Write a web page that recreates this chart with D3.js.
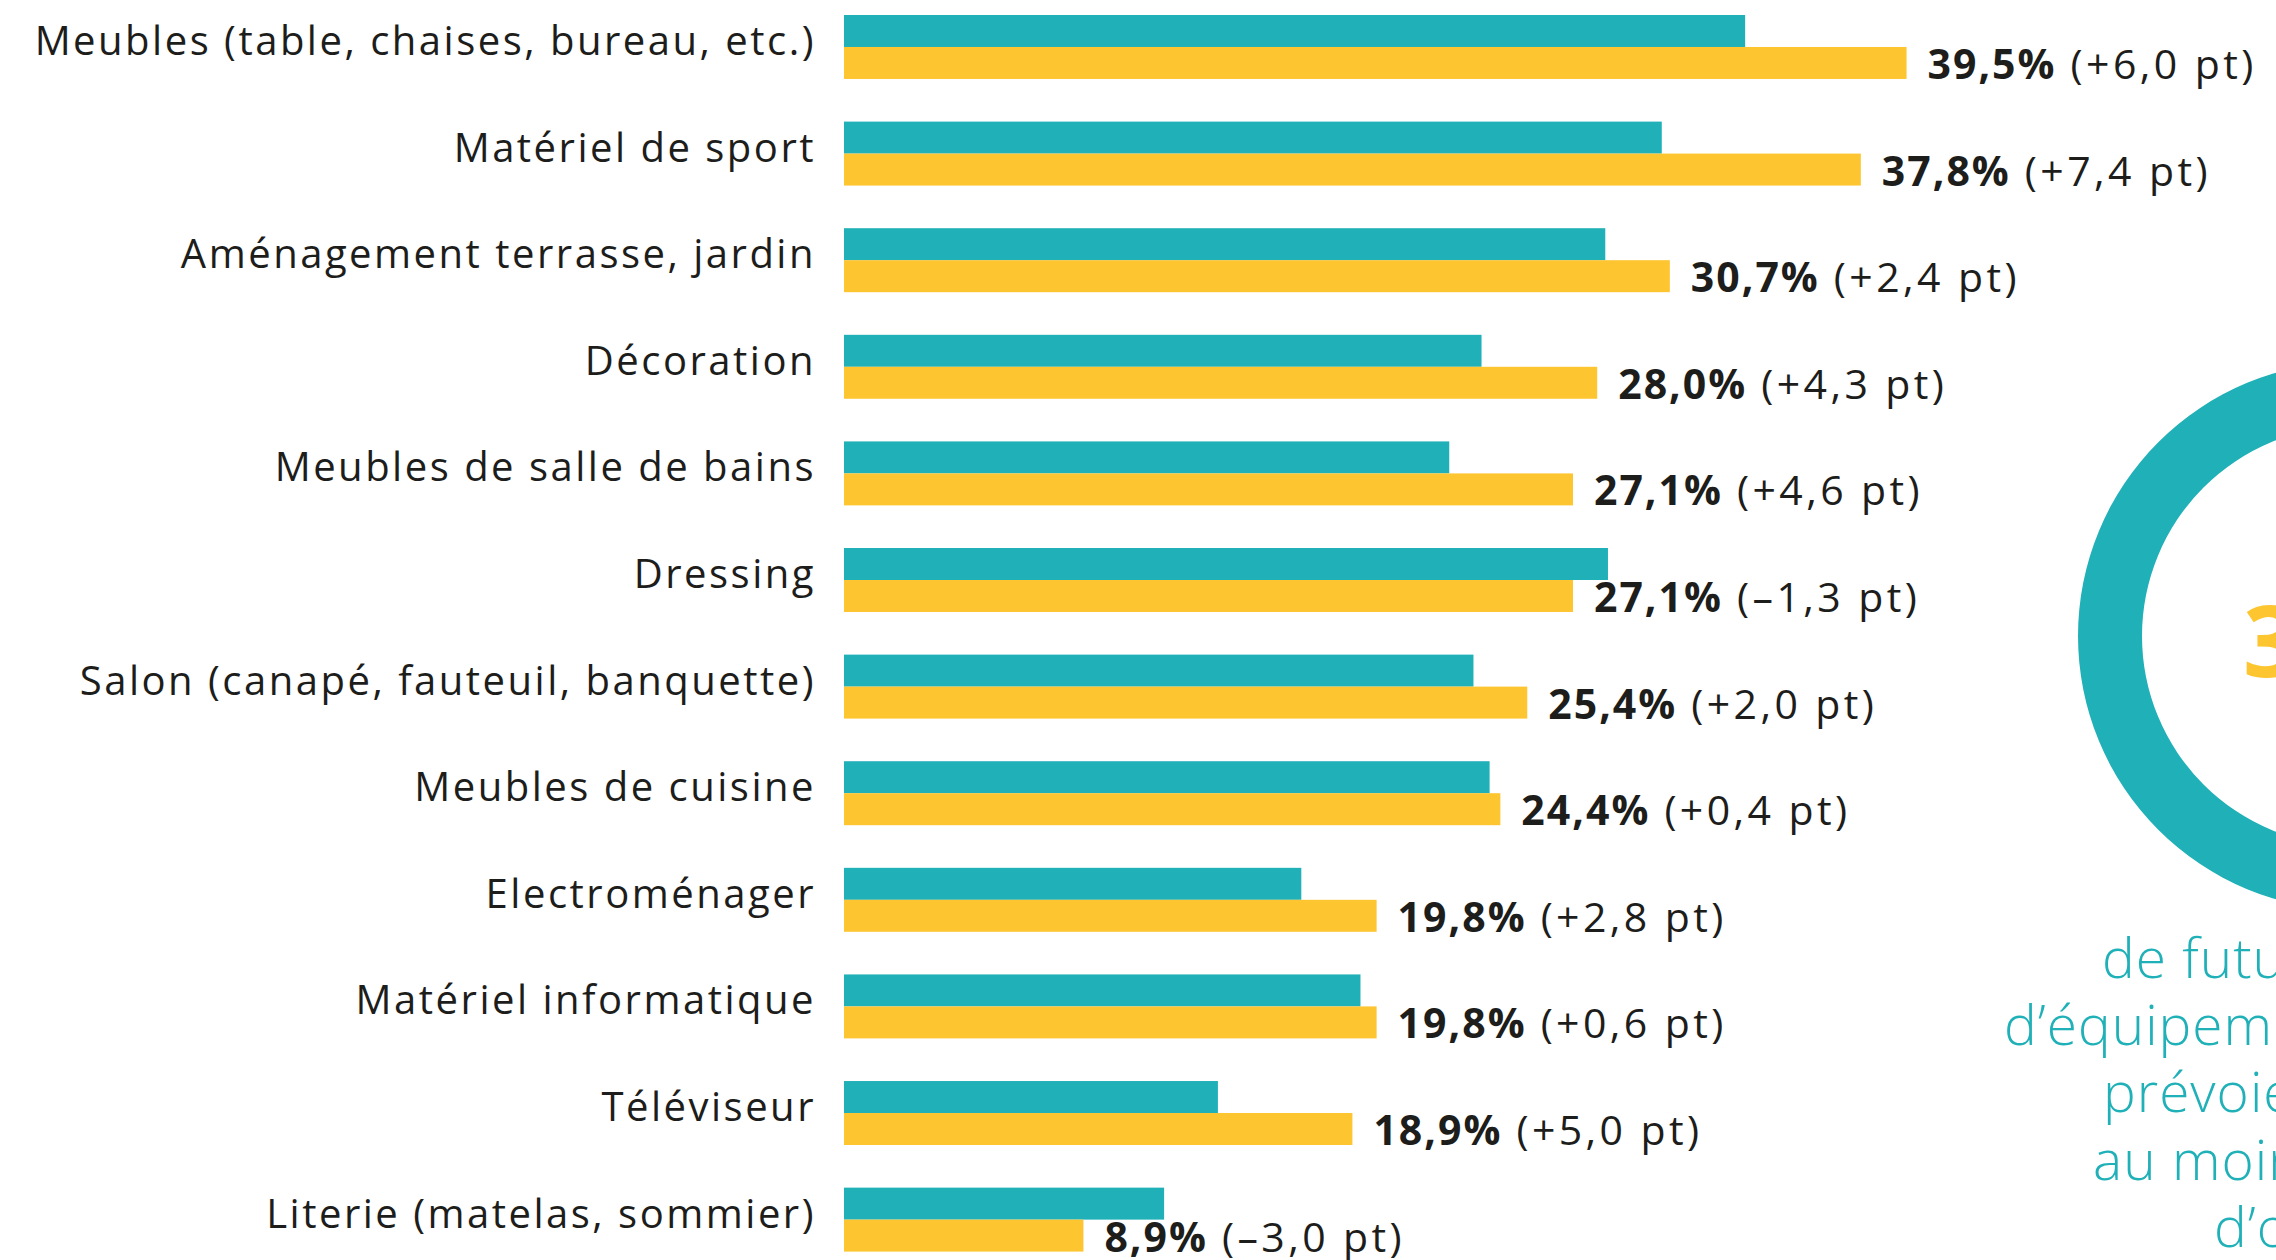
<!DOCTYPE html>
<html lang="fr">
<head>
<meta charset="utf-8">
<script src="https://cdn.jsdelivr.net/npm/d3@7"></script>
<style>
  html, body { margin: 0; padding: 0; background: #fff; }
  svg { display: block; }
  text { font-family: "Open Sans", "DejaVu Sans", sans-serif; }
</style>
</head>
<body>
<div id="chart"></div>
<script>
const categories = [
  "Meubles (table, chaises, bureau, etc.)",
  "Matériel de sport",
  "Aménagement terrasse, jardin",
  "Décoration",
  "Meubles de salle de bains",
  "Dressing",
  "Salon (canapé, fauteuil, banquette)",
  "Meubles de cuisine",
  "Electroménager",
  "Matériel informatique",
  "Téléviseur",
  "Literie (matelas, sommier)"
];
const current = [39.5, 37.8, 30.7, 28.0, 27.1, 27.1, 25.4, 24.4, 19.8, 19.8, 18.9, 8.9];
const previous = [33.5, 30.4, 28.3, 23.7, 22.5, 28.4, 23.4, 24.0, 17.0, 19.2, 13.9, 11.9];
const deltas = [6.0, 7.4, 2.4, 4.3, 4.6, -1.3, 2.0, 0.4, 2.8, 0.6, 5.0, -3.0];

const bigNumber = "37%";
const sideLines = [
  "de futurs acquéreurs",
  "d’équipement maison",
  "prévoient d’acheter",
  "au moins un produit",
  "d’occasion"
];

const teal = "#20b0b8";
const yellow = "#fdc530";
const ink = "#1d1d1b";

const W = 2276, H = 1260;

const fr = d3.formatLocale({ decimal: ",", thousands: " ", grouping: [3], currency: ["", " €"] });
const f1 = fr.format(".1f");

const svg = d3.select("#chart").append("svg")
  .attr("width", W)
  .attr("height", H);

const x = d3.scaleLinear().domain([0, 40]).range([844, 1920]);
const y = d3.scaleBand().domain(categories).range([15, 1251.6]).paddingInner(0.4).paddingOuter(0);
const sub = d3.scaleBand().domain(["prev", "cur"]).range([0, y.bandwidth()]);

const rows = categories.map((c, i) => ({ cat: c, cur: current[i], prev: previous[i], delta: deltas[i] }));

const g = svg.append("g");

const row = g.selectAll(".row")
  .data(rows)
  .join("g")
  .attr("class", "row")
  .attr("transform", d => `translate(0,${y(d.cat)})`);

row.append("rect")
  .attr("x", x(0))
  .attr("y", sub("prev"))
  .attr("width", d => x(d.prev) - x(0))
  .attr("height", sub.bandwidth())
  .attr("fill", teal);

row.append("rect")
  .attr("x", x(0))
  .attr("y", sub("cur"))
  .attr("width", d => x(d.cur) - x(0))
  .attr("height", sub.bandwidth())
  .attr("fill", yellow);

// category labels
row.append("text")
  .attr("x", x(0) - 28)
  .attr("y", 40)
  .attr("text-anchor", "end")
  .attr("font-size", 40)
  .attr("letter-spacing", 2.5)
  .attr("fill", ink)
  .text(d => d.cat);

// value labels
const val = row.append("text")
  .attr("x", d => x(d.cur) + 21)
  .attr("y", 64)
  .attr("font-size", 41)
  .attr("fill", ink);

val.append("tspan")
  .attr("font-weight", 700)
  .attr("letter-spacing", 2)
  .text(d => f1(d.cur) + "%");

val.append("tspan")
  .attr("letter-spacing", 3.4)
  .text(d => ` (${d.delta < 0 ? "–" : "+"}${f1(Math.abs(d.delta))} pt)`);

// ring on the right
const ring = svg.append("g").attr("transform", "translate(2352,636)");
ring.append("path")
  .attr("d", d3.arc().innerRadius(210).outerRadius(274).startAngle(0).endAngle(2 * Math.PI)())
  .attr("fill", teal);

svg.append("text")
  .attr("x", 2243)
  .attr("y", 677)
  .attr("font-size", 98)
  .attr("font-weight", 700)
  .attr("fill", yellow)
  .text(bigNumber);

const lineStarts = [2102, 2004, 2103, 2093, 2214];
svg.append("g")
  .selectAll("text")
  .data(sideLines)
  .join("text")
  .attr("x", (d, i) => lineStarts[i])
  .attr("y", (d, i) => 978 + i * 67.2)
  .attr("font-size", 55)
  .attr("font-weight", 300)
  .attr("letter-spacing", 1)
  .attr("fill", teal)
  .text(d => d);
</script>
</body>
</html>
